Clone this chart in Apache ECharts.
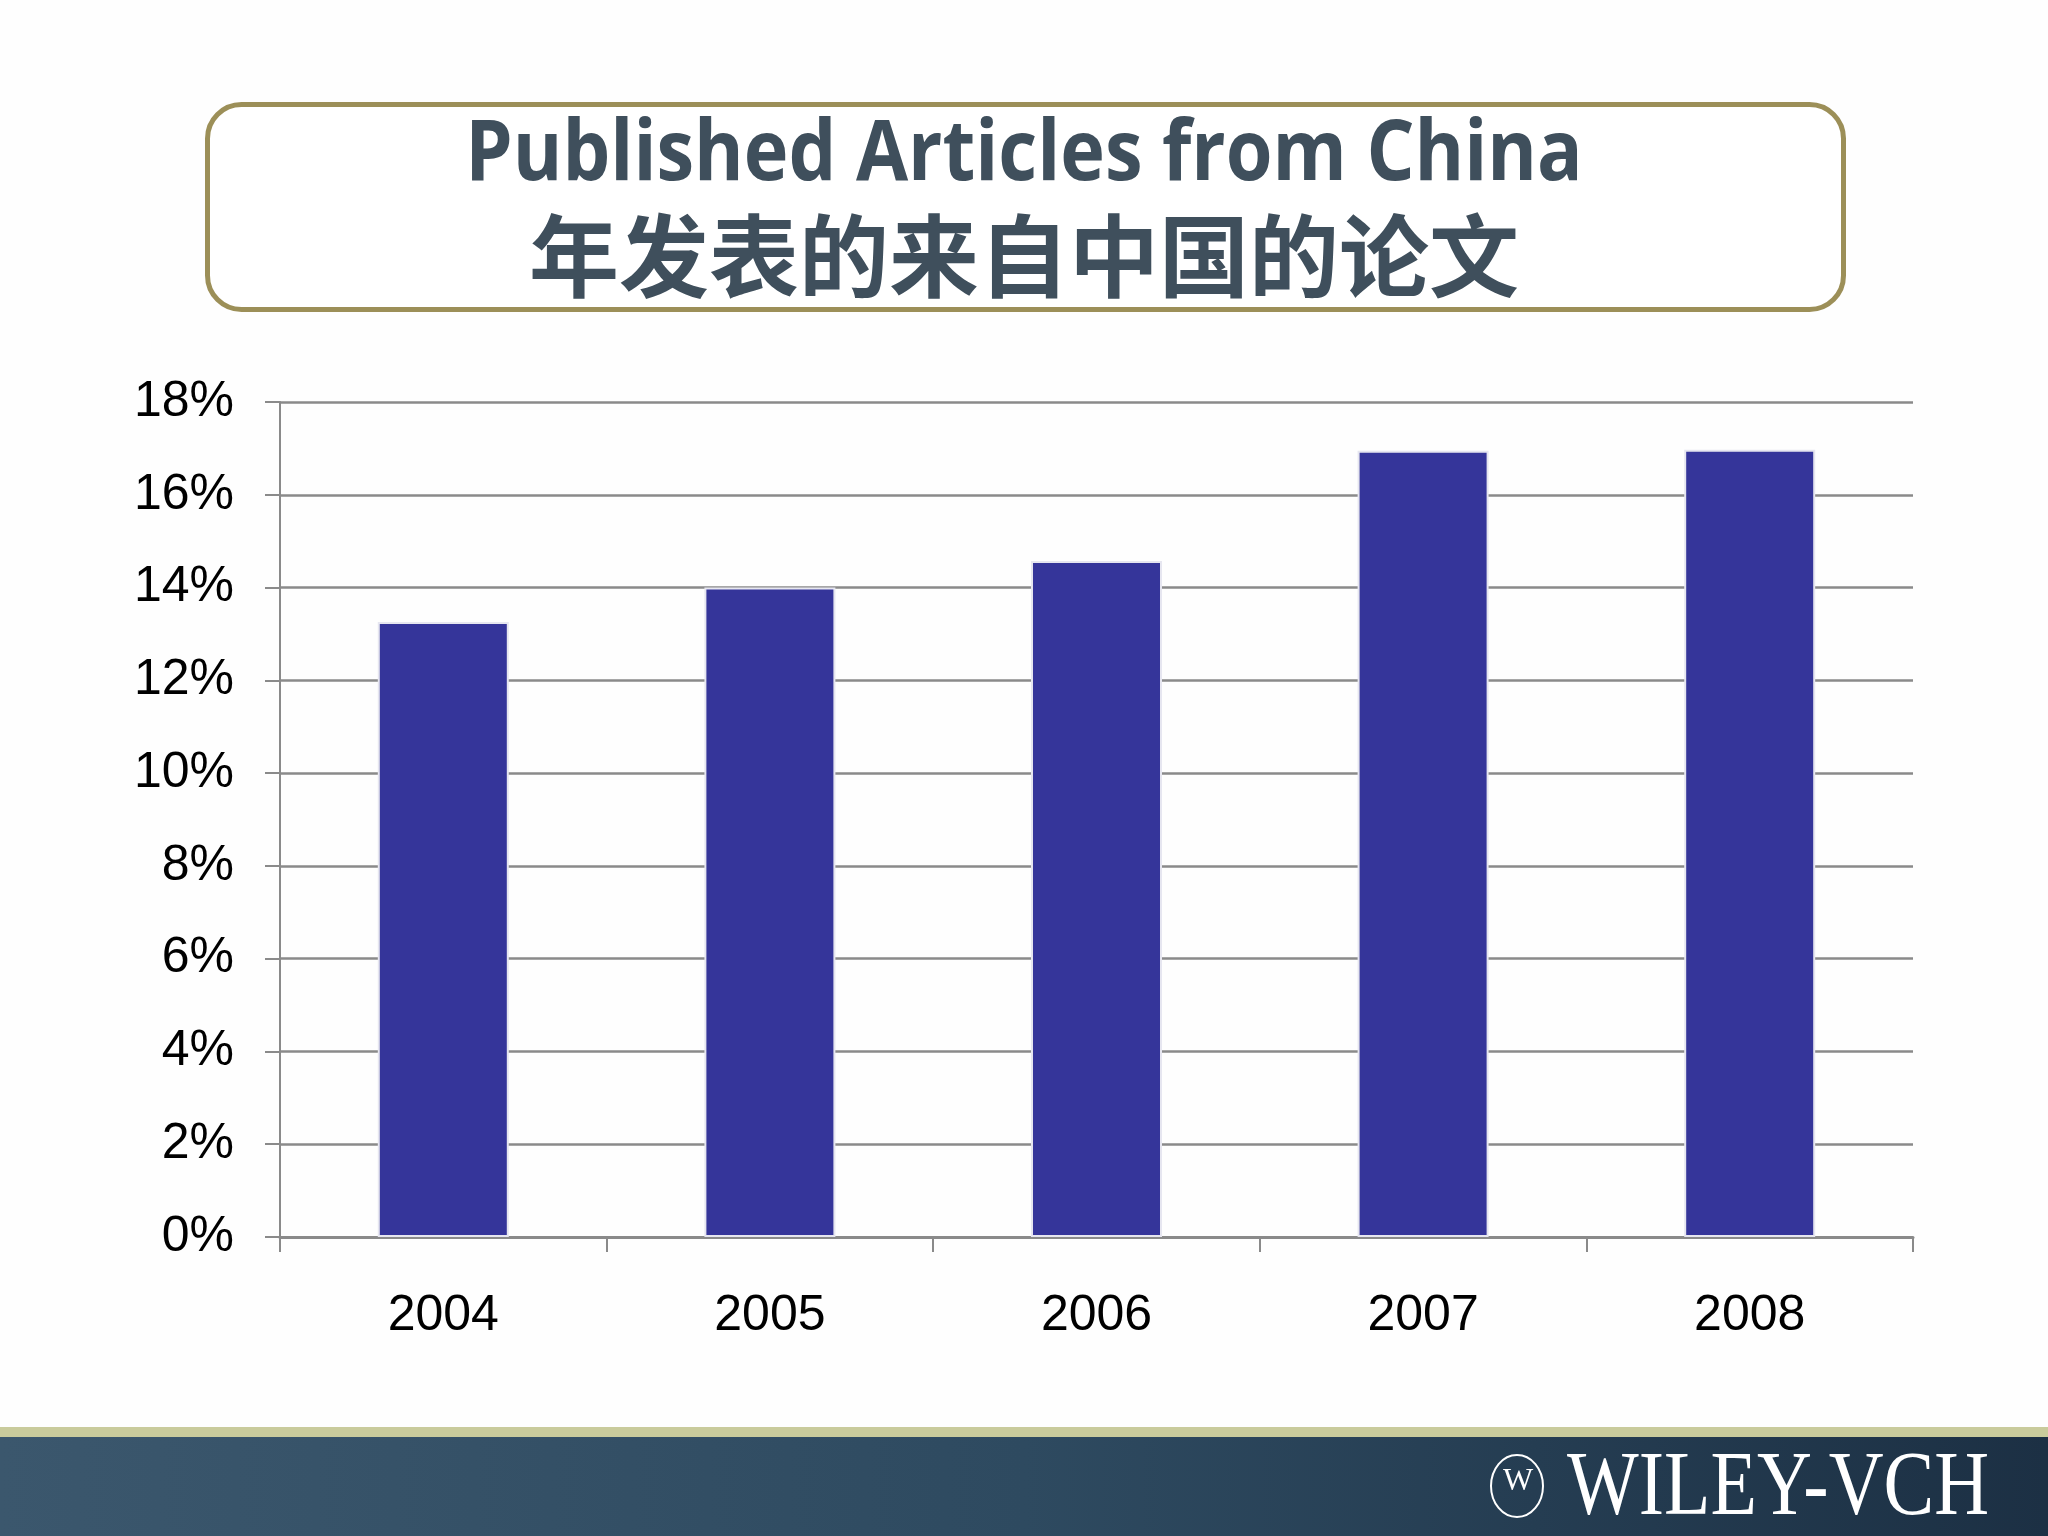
<!DOCTYPE html>
<html>
<head>
<meta charset="utf-8">
<script src="https://cdn.jsdelivr.net/npm/echarts@6/dist/echarts.min.js"></script>
<style>
html,body{margin:0;padding:0;background:#fefefe;}
#chart{width:2048px;height:1536px;}
</style>
</head>
<body>
<div id="chart"></div>
<script>
const categories = ['2004', '2005', '2006', '2007', '2008'];
const shareValues = [13.26, 14.0, 14.57, 16.95, 16.97];
const titleLine1 = 'Published Articles from China';
const titleLine2 = '年发表的来自中国的论文';
const logoText = 'WILEY-VCH';

const chart = echarts.init(document.getElementById('chart'));
chart.setOption({
  backgroundColor: '#fefefe',
  animation: false,
  grid: { left: 280, right: 135, top: 402, bottom: 299, containLabel: false },
  xAxis: {
    type: 'category',
    data: categories,
    axisLine: { show: true, lineStyle: { color: '#8a8a8a', width: 3 } },
    axisTick: { show: true, length: 15, lineStyle: { color: '#8a8a8a', width: 2 } },
    axisLabel: { margin: 54, fontSize: 50, color: '#000', fontFamily: 'Liberation Sans' },
    splitLine: { show: false }
  },
  yAxis: {
    type: 'value',
    min: 0, max: 18, interval: 2,
    axisLine: { show: true, lineStyle: { color: '#8a8a8a', width: 2 } },
    axisTick: { show: true, length: 15, lineStyle: { color: '#8a8a8a', width: 2 } },
    axisLabel: { formatter: '{value}%', margin: 46, fontSize: 50, color: '#000', fontFamily: 'Liberation Sans' },
    splitLine: { show: true, lineStyle: { color: '#8a8a8a', width: 2.5 } }
  },
  series: [{
    type: 'bar',
    data: shareValues,
    barWidth: 131,
    itemStyle: { color: '#35359a', borderColor: '#e6e6f0', borderWidth: 2 }
  }],
  graphic: [
    {
      type: 'rect', left: 205, top: 102, z: 10,
      shape: { width: 1636, height: 205, r: 34 },
      style: { fill: '#ffffff', stroke: '#9c8f58', lineWidth: 5 }
    },
    {
      type: 'text', left: 'center', top: 114, z: 11,
      style: { text: titleLine1, fontSize: 84, fontWeight: 'bold', fontFamily: '"Open Sans"', fill: '#3f4f5c' },
      scaleX: 0.9
    },
    {
      type: 'text', left: 'center', top: 211, z: 11,
      style: { text: titleLine2, fontSize: 90, fontWeight: 'bold', fontFamily: 'Noto Sans CJK SC', fill: '#3f4f5c' }
    },
    {
      type: 'rect', left: 0, top: 1427, z: 5,
      shape: { width: 2048, height: 10 },
      style: { fill: '#c9cb9c' }
    },
    {
      type: 'rect', left: 0, top: 1437, z: 5,
      shape: { width: 2048, height: 99 },
      style: {
        fill: new echarts.graphic.LinearGradient(0, 0, 1, 0, [
          { offset: 0, color: '#3b576d' },
          { offset: 0.5, color: '#2e4a60' },
          { offset: 1, color: '#1c3044' }
        ])
      }
    },
    {
      type: 'ellipse', z: 6,
      shape: { cx: 1517, cy: 1486, rx: 26, ry: 31 },
      style: { fill: 'none', stroke: '#ffffff', lineWidth: 2 }
    },
    {
      type: 'text', z: 7, left: 1503, top: 1466,
      style: { text: 'W', fontSize: 32, fontFamily: 'Liberation Serif', fill: '#ffffff' }
    },
    {
      type: 'text', z: 7, x: 1567, y: 1444,
      style: { text: logoText, fontSize: 76, fontFamily: 'Liberation Serif', fill: '#ffffff' },
      scaleY: 1.2
    }
  ]
});
</script>
</body>
</html>
